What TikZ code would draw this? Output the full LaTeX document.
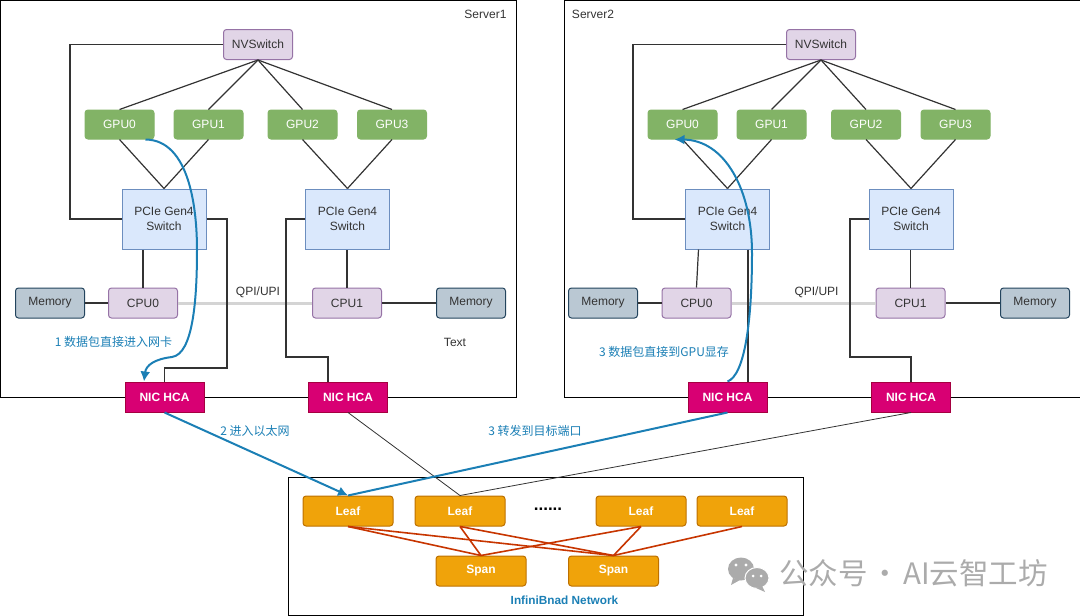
\documentclass[tikz,border=0pt]{standalone}
\usepackage{fontspec}
\usepackage{xcolor}
\usetikzlibrary{arrows.meta}
\setmainfont{Liberation Sans}
\newfontfamily\cjk{Noto Sans CJK SC}
\definecolor{gpufill}{HTML}{82B366}
\definecolor{purplefill}{HTML}{E1D5E7}
\definecolor{purpleline}{HTML}{9673A6}
\definecolor{pciefill}{HTML}{DAE8FC}
\definecolor{pcieline}{HTML}{6C8EBF}
\definecolor{memfill}{HTML}{BAC8D3}
\definecolor{memline}{HTML}{23445D}
\definecolor{nicfill}{HTML}{D80073}
\definecolor{nicline}{HTML}{A50040}
\definecolor{leaffill}{HTML}{F0A30A}
\definecolor{leafline}{HTML}{BD7000}
\definecolor{leafedge}{HTML}{C73500}
\definecolor{flowblue}{HTML}{1B7FB5}
\definecolor{inktext}{HTML}{333333}
\definecolor{markgrey}{HTML}{ABABAB}
\tikzset{
    frame/.style={draw=black,line width=0.9pt,inner sep=0pt},
    box/.style={rounded corners=3pt,line width=1pt,inner sep=0pt,minimum width=69pt,minimum height=30pt,font=\fontsize{12}{14}\selectfont,text=inktext},
    nvbox/.style={box,draw=purpleline,fill=purplefill},
    gpubox/.style={box,draw=gpufill,fill=gpufill,text=white,minimum height=29pt},
    pciebox/.style={line width=1pt,draw=pcieline,fill=pciefill,inner sep=0pt,minimum width=84pt,minimum height=60pt,align=center,font=\fontsize{12}{15}\selectfont,text=inktext},
    membox/.style={box,draw=memline,fill=memfill},
    nicbox/.style={line width=1pt,draw=nicline,fill=nicfill,inner sep=0pt,minimum width=79pt,minimum height=30pt,text=white,font=\fontsize{12}{14}\selectfont\bfseries},
    leafbox/.style={box,draw=leafline,fill=leaffill,text=white,minimum width=90pt,font=\fontsize{12}{14}\selectfont\bfseries},
    wire/.style={draw=inktext,line width=1.2pt},
    thinwire/.style={draw=inktext,line width=0.8pt},
    qpi/.style={draw=black!17,line width=3pt},
    flow/.style={draw=flowblue,line width=2pt},
    flowtip/.style={-{Latex[length=10pt,width=10pt]}},
    crosslink/.style={draw=leafedge,line width=1.6pt},
    note/.style={inner sep=0pt,font=\fontsize{12}{14}\selectfont,text=inktext},
    flownote/.style={inner sep=0pt,font=\cjk\fontsize{12}{14}\selectfont,text=flowblue},
}
\begin{document}
\begin{tikzpicture}[x=1pt,y=-1pt]
        \useasboundingbox (0,0) rectangle (1080,616);
        \node[frame,minimum width=516pt,minimum height=397pt] (server1) at (258,198.5) {};
        \node[frame,minimum width=518pt,minimum height=397pt] (server2) at (823,198.5) {};
        \node[frame,minimum width=515pt,minimum height=138pt] (network) at (545.5,546) {};
        \node[note] (server1label) at (485.5,14.5) {Server1};
        \node[note] (server2label) at (593,14.5) {Server2};
        \node[nvbox] (s1nv) at (258,44.5) {NVSwitch};
        \node[gpubox] (s1gpu0) at (119.5,124.5) {GPU0};
        \node[gpubox] (s1gpu1) at (208.5,124.5) {GPU1};
        \node[gpubox] (s1gpu2) at (302.5,124.5) {GPU2};
        \node[gpubox] (s1gpu3) at (392,124.5) {GPU3};
        \node[pciebox] (s1pcie0) at (164,219) {PCIe Gen4\\Switch};
        \node[pciebox] (s1pcie1) at (347.5,219) {PCIe Gen4\\Switch};
        \node[membox] (s1mem0) at (50,303) {Memory};
        \node[nvbox] (s1cpu0) at (143,303) {CPU0};
        \node[nvbox] (s1cpu1) at (347,303) {CPU1};
        \node[membox] (s1mem1) at (471,303) {Memory};
        \node[nvbox] (s2nv) at (821,44.5) {NVSwitch};
        \node[gpubox] (s2gpu0) at (682.5,124.5) {GPU0};
        \node[gpubox] (s2gpu1) at (771.5,124.5) {GPU1};
        \node[gpubox] (s2gpu2) at (866,124.5) {GPU2};
        \node[gpubox] (s2gpu3) at (955.5,124.5) {GPU3};
        \node[pciebox] (s2pcie0) at (727.5,219) {PCIe Gen4\\Switch};
        \node[pciebox] (s2pcie1) at (911,219) {PCIe Gen4\\Switch};
        \node[membox] (s2mem0) at (603,303) {Memory};
        \node[nvbox] (s2cpu0) at (696.5,303) {CPU0};
        \node[nvbox] (s2cpu1) at (910.5,303) {CPU1};
        \node[membox] (s2mem1) at (1035,303) {Memory};
        \node[nicbox] (s1nic0) at (164.5,397) {NIC HCA};
        \node[nicbox] (s1nic1) at (348,397) {NIC HCA};
        \node[nicbox] (s2nic0) at (727.5,397) {NIC HCA};
        \node[nicbox] (s2nic1) at (911,397) {NIC HCA};
        \node[leafbox] (leaf0) at (348,511) {Leaf};
        \node[leafbox] (leaf1) at (460,511) {Leaf};
        \node[leafbox] (leaf2) at (641,511) {Leaf};
        \node[leafbox] (leaf3) at (742,511) {Leaf};
        \node[leafbox] (span0) at (481,571) {Span};
        \node[leafbox] (span1) at (613.5,571) {Span};
        \draw[wire] (s1nv.west) -| (70,219) -- (s1pcie0.west);
        \draw[wire] (s1nv.south) -- (s1gpu0.north);
        \draw[wire] (s1nv.south) -- (s1gpu1.north);
        \draw[wire] (s1nv.south) -- (s1gpu2.north);
        \draw[wire] (s1nv.south) -- (s1gpu3.north);
        \draw[wire] (s1gpu0.south) -- (s1pcie0.north);
        \draw[wire] (s1gpu1.south) -- (s1pcie0.north);
        \draw[wire] (s1gpu2.south) -- (s1pcie1.north);
        \draw[wire] (s1gpu3.south) -- (s1pcie1.north);
        \draw[wire] (s1cpu0.north) -- (s1cpu0.north |- s1pcie0.south);
        \draw[wire] (s1cpu1.north) -- (s1cpu1.north |- s1pcie1.south);
        \draw[wire] (s1mem0.east) -- (s1cpu0.west);
        \draw[wire] (s1cpu1.east) -- (s1mem1.west);
        \draw[qpi] (s1cpu0.east) -- node[note,anchor=center,yshift=11pt,xshift=13pt] (s1qpi) {QPI/UPI} (s1cpu1.west);
        \draw[wire] (s1pcie0.east) -| (227,368) -| (s1nic0.north);
        \draw[wire] (s1pcie1.west) -| (286,357) -| ([xshift=-20pt]s1nic1.north);
        \draw[wire] (s2nv.west) -| (633,219) -- (s2pcie0.west);
        \draw[wire] (s2nv.south) -- (s2gpu0.north);
        \draw[wire] (s2nv.south) -- (s2gpu1.north);
        \draw[wire] (s2nv.south) -- (s2gpu2.north);
        \draw[wire] (s2nv.south) -- (s2gpu3.north);
        \draw[wire] (s2gpu0.south) -- (s2pcie0.north);
        \draw[wire] (s2gpu1.south) -- (s2pcie0.north);
        \draw[wire] (s2gpu2.south) -- (s2pcie1.north);
        \draw[wire] (s2gpu3.south) -- (s2pcie1.north);
        \draw[wire] ([xshift=-29pt]s2pcie0.south) -- (s2cpu0.north);
        \draw[wire] (s2cpu1.north) -- (s2cpu1.north |- s2pcie1.south);
        \draw[wire] (s2mem0.east) -- (s2cpu0.west);
        \draw[wire] (s2cpu1.east) -- (s2mem1.west);
        \draw[qpi] (s2cpu0.east) -- node[note,anchor=center,yshift=11pt,xshift=13pt] (s2qpi) {QPI/UPI} (s2cpu1.west);
        \draw[wire] ([xshift=20.5pt]s2pcie0.south) -- ([xshift=20.5pt]s2nic0.north);
        \draw[wire] (s2pcie1.west) -| (850,357) -| (s2nic1.north);
        \draw[thinwire] (s1nic1.south) -- (leaf1.north);
        \draw[thinwire] (s2nic1.south) -- (leaf1.north);
        \draw[crosslink] (leaf0.south) -- (span0.north);
        \draw[crosslink] (leaf0.south) -- (span1.north);
        \draw[crosslink] (leaf1.south) -- (span0.north);
        \draw[crosslink] (leaf1.south) -- (span1.north);
        \draw[crosslink] (leaf2.south) -- (span0.north);
        \draw[crosslink] (leaf2.south) -- (span1.north);
        \draw[crosslink] (leaf3.south) -- (span1.north);
        \draw[flow,flowtip] ([xshift=26pt]s1gpu0.south) .. controls (190,140) and (197,210) .. (197,250) .. controls (197,300) and (193,354) .. (172,357) .. controls (155,359) and (146,365) .. ([xshift=-20.5pt]s1nic0.north);
        \draw[flow,flowtip] (s2nic0.north) .. controls (745,375) and (752,320) .. (752,253) .. controls (752,190) and (725,140) .. ([xshift=-8pt]s2gpu0.south);
        \draw[flow,flowtip] (s1nic0.south) -- (leaf0.north);
        \draw[flow] (s2nic0.south) -- (leaf0.north);
        \node[note] (s1text) at (455,342) {Text};
        \node[flownote] (step1) at (113.5,342) {1 数据包直接进入网卡};
        \node[flownote] (step2) at (255,431) {2 进入以太网};
        \node[flownote] (step3) at (535,431) {3 转发到目标端口};
        \node[flownote] (step4) at (664,352) {3 数据包直接到GPU显存};
        \node[inner sep=0pt,font=\fontsize{17}{18}\selectfont\bfseries] (dots) at (548,509) {......};
        \node[inner sep=0pt,text=flowblue,font=\fontsize{11.8}{13}\selectfont\bfseries] (netlabel) at (564.5,600) {InfiniBnad Network};
        \fill[markgrey] (741,569) ellipse [x radius=13pt,y radius=11.5pt];
        \fill[markgrey] (733,578) -- (731,585) -- (740,580) -- cycle;
        \draw[white,fill=markgrey,line width=1pt] (757,578) ellipse [x radius=12pt,y radius=10.5pt];
        \fill[markgrey] (762,586) -- (765,592) -- (756,588) -- cycle;
        \fill[white] (736,565) circle [radius=1.7pt] (746,565) circle [radius=1.7pt] (753,576) circle [radius=1.5pt] (761,576) circle [radius=1.5pt];
        \node[anchor=west,inner sep=0pt,text=markgrey,font=\cjk\fontsize{29.5}{31}\selectfont] (watermark) at (779,573) {公众号\hspace{3pt}·\hspace{3pt}AI云智工坊};
    \end{tikzpicture}
\end{document}
